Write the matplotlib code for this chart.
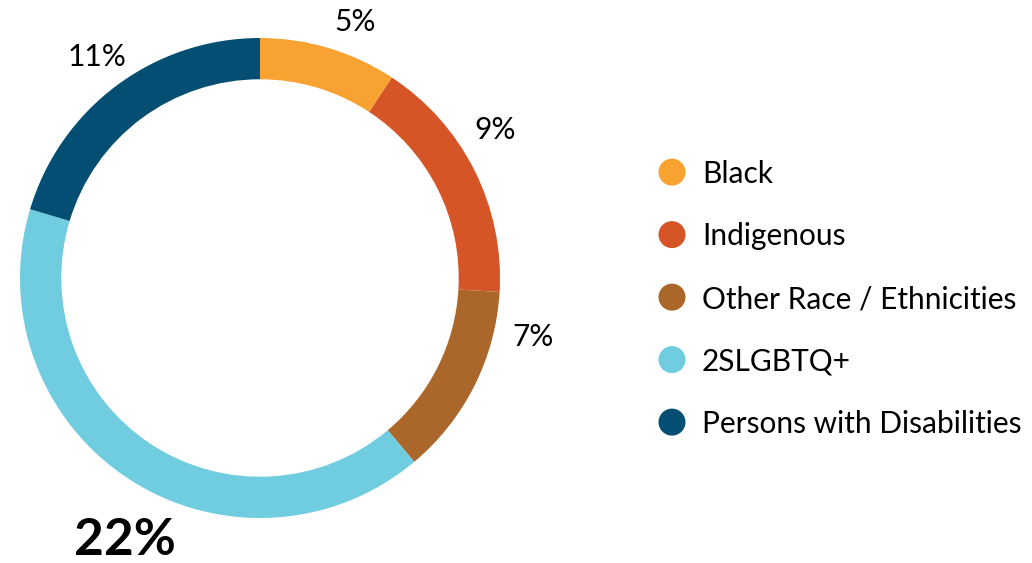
import matplotlib
matplotlib.use("Agg")
import matplotlib.pyplot as plt

categories = ["Black", "Indigenous", "Other Race / Ethnicities", "2SLGBTQ+", "Persons with Disabilities"]
values = [5, 9, 7, 22, 11]
labels = ["5%", "9%", "7%", "22%", "11%"]
colors = ["#F8A232", "#D65527", "#AB6729", "#70CDE0", "#034E72"]
# label positions (relative to the ring radius)
label_pos = [(0.396, 1.067), (0.979, 0.617), (1.138, -0.246), (-0.5625, -1.092), (-0.679, 0.921)]
label_bold = [False, False, False, True, False]

plt.rcParams['font.family'] = ['Lato', 'DejaVu Sans']

W, H = 1032, 563
fig = plt.figure(figsize=(W / 100, H / 100), dpi=100)

cx, cy, R = 260, 278, 240
ax = fig.add_axes([(cx - R) / W, (H - cy - R) / H, 2 * R / W, 2 * R / H])
ax.pie(values, colors=colors, startangle=90, counterclock=False, radius=1.0,
       wedgeprops=dict(width=0.172, edgecolor='none', linewidth=0))
ax.set_xlim(-1, 1)
ax.set_ylim(-1, 1)
ax.set_aspect('equal')
ax.axis('off')

for lab, (x, y), b in zip(labels, label_pos, label_bold):
    ax.text(x, y, lab, ha='center', va='center',
            fontsize=37 if b else 21.5, fontweight='bold' if b else 'normal',
            color='black', clip_on=False)

# legend
top, bottom = 174, 424
step = (bottom - top) / (len(categories) - 1)
y0 = top - step / 2
y1 = bottom + step / 2
lx0 = 640
lax = fig.add_axes([lx0 / W, (H - y1) / H, (W - lx0) / W, (y1 - y0) / H])
lax.set_xlim(0, W - lx0)
lax.set_ylim(len(categories) - 0.5, -0.5)
lax.axis('off')
for i, (cat, col) in enumerate(zip(categories, colors)):
    lax.scatter([672 - lx0], [i - 0.03], s=(27 * 0.72) ** 2, color=col, edgecolors='none', clip_on=False)
    lax.text(702 - lx0, i, cat, ha='left', va='center', fontsize=21.5, color='black', clip_on=False)

fig.savefig("out.png", dpi=100, facecolor='white')
